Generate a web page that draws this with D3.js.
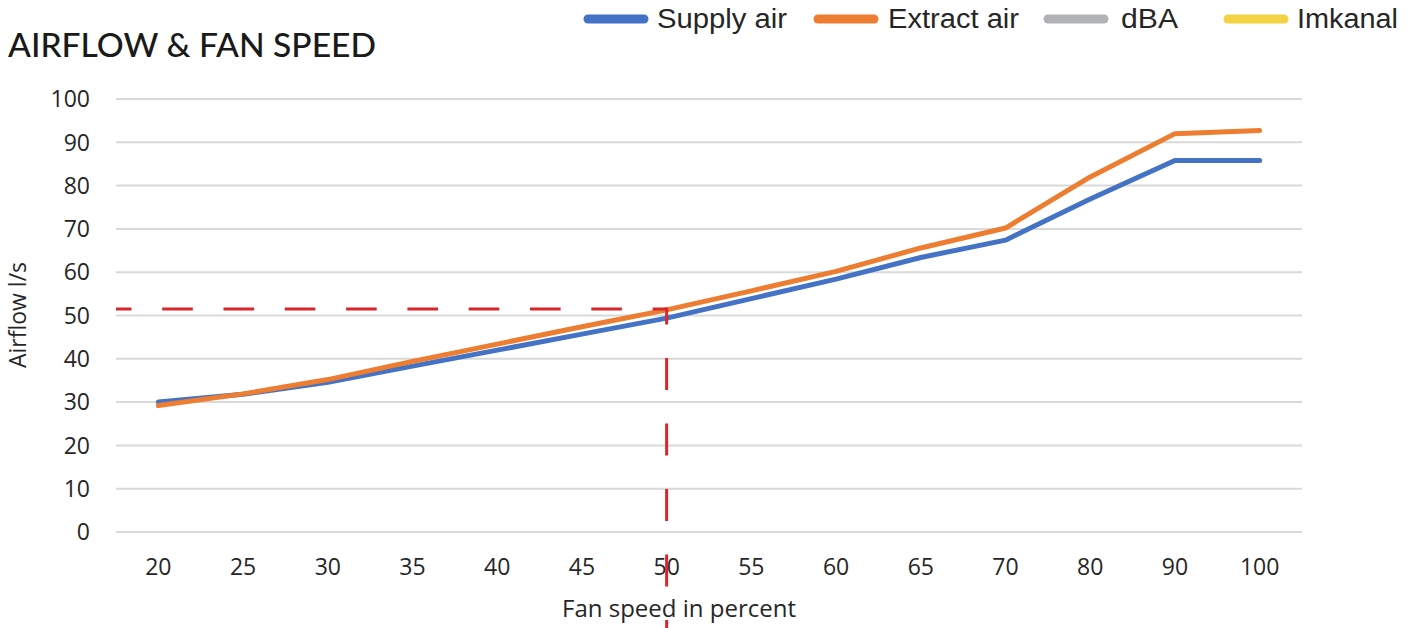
<!DOCTYPE html>
<html>
<head>
<meta charset="utf-8">
<script src="https://cdn.jsdelivr.net/npm/d3@7"></script>
<style>
  html, body { margin: 0; padding: 0; background: #fff; }
  svg { display: block; }
</style>
</head>
<body>
<svg id="chart" width="1418" height="628"></svg>
<script>
// ---- Data ----
const categories = ["20","25","30","35","40","45","50","55","60","65","70","80","90","100"];
const supplyAir  = [30, 31.8, 34.6, 38.3, 42, 45.7, 49.4, 53.9, 58.4, 63.4, 67.4, 76.9, 85.8, 85.8];
const extractAir = [29.2, 31.9, 35.2, 39.4, 43.4, 47.4, 51.3, 55.7, 60.2, 65.6, 70.2, 82.0, 92.0, 92.7];
const dBA = [];
const imkanal = [];
const yTicks = [0,10,20,30,40,50,60,70,80,90,100];
const seriesNames = ["Supply air","Extract air","dBA","Imkanal"];
const refCategory = "50";
const refValue = 51.5;

(function () {
// ---- Layout ----
const svg = d3.select("#chart");
const plotLeft = 116, plotRight = 1302, plotTop = 99, plotBottom = 532;
const colors = ["#4472C4","#ED7D31","#B1B2B5","#F4D343"];
const textColor = "#262626";

const x = d3.scaleBand().domain(categories).range([plotLeft, plotRight]).padding(0);
const cx = d => x(d) + x.bandwidth()/2;
const y = d3.scaleLinear().domain([0,100]).range([plotBottom, plotTop]);

// Gridlines
svg.append("g").selectAll("line").data(yTicks).join("line")
  .attr("x1", plotLeft).attr("x2", plotRight)
  .attr("y1", d => y(d)).attr("y2", d => y(d))
  .attr("stroke", "#d9d9d9").attr("stroke-width", 2);

// Y tick labels
svg.append("g").selectAll("text").data(yTicks).join("text")
  .attr("x", 90).attr("y", d => y(d)).attr("dy", "0.36em")
  .attr("text-anchor", "end")
  .attr("font-family", "'Open Sans', sans-serif").attr("font-size", 23)
  .attr("fill", textColor).text(d => d);

// X tick labels
svg.append("g").selectAll("text").data(categories).join("text")
  .attr("x", d => cx(d)).attr("y", 567).attr("dy", "0.36em")
  .attr("text-anchor", "middle")
  .attr("font-family", "'Open Sans', sans-serif").attr("font-size", 23)
  .attr("fill", textColor).text(d => d);

// Axis titles
svg.append("text")
  .attr("transform", "translate(18,315) rotate(-90)")
  .attr("dy", "0.36em").attr("text-anchor", "middle")
  .attr("font-family", "'Open Sans', sans-serif").attr("font-size", 23)
  .attr("fill", textColor).text("Airflow l/s");
svg.append("text")
  .attr("x", 679).attr("y", 608).attr("dy", "0.36em").attr("text-anchor", "middle")
  .attr("font-family", "'Open Sans', sans-serif").attr("font-size", 24)
  .attr("fill", textColor).text("Fan speed in percent");

// Title
svg.append("text")
  .attr("x", 8).attr("y", 57)
  .attr("font-family", "Lato, sans-serif").attr("font-size", 32).attr("font-weight", 500)
  .attr("textLength", 368).attr("lengthAdjust", "spacingAndGlyphs")
  .attr("fill", "#1a1a1a").text("AIRFLOW & FAN SPEED");

// Lines
const line = d3.line().x((d,i) => cx(categories[i])).y(d => y(d));
[[supplyAir, colors[0]], [extractAir, colors[1]], [dBA, colors[2]], [imkanal, colors[3]]]
  .forEach(([vals, col]) => {
    if (!vals.length) return;
    svg.append("path").datum(vals)
      .attr("d", line).attr("fill", "none")
      .attr("stroke", col).attr("stroke-width", 5)
      .attr("stroke-linejoin", "round").attr("stroke-linecap", "round");
  });

// Reference dashed lines
const red = "#D9262B";
svg.append("line")
  .attr("x1", plotLeft).attr("x2", cx(refCategory))
  .attr("y1", y(refValue)).attr("y2", y(refValue))
  .attr("stroke", red).attr("stroke-width", 3)
  .attr("stroke-dasharray", "30.6 30.7").attr("stroke-dashoffset", 15.1);
svg.append("line")
  .attr("x1", cx(refCategory)).attr("x2", cx(refCategory))
  .attr("y1", y(refValue) - 1.5).attr("y2", 640)
  .attr("stroke", red).attr("stroke-width", 3)
  .attr("stroke-dasharray", "32 33.5").attr("stroke-dashoffset", 15);

// Legend
const legendX = [588, 818, 1048, 1228];
const legendTextX = [657, 888, 1121, 1297];
const legendTextW = [130, 131, 57, 101];
const lg = svg.append("g");
seriesNames.forEach((name, i) => {
  lg.append("line")
    .attr("x1", legendX[i]).attr("x2", legendX[i] + 56)
    .attr("y1", 19).attr("y2", 19)
    .attr("stroke", colors[i]).attr("stroke-width", 9).attr("stroke-linecap", "round");
  lg.append("text")
    .attr("x", legendTextX[i]).attr("y", 28)
    .attr("font-family", "'Liberation Sans', Arial, sans-serif").attr("font-size", 27)
    .attr("textLength", legendTextW[i]).attr("lengthAdjust", "spacingAndGlyphs")
    .attr("fill", textColor).text(name);
});
})();
</script>
</body>
</html>
